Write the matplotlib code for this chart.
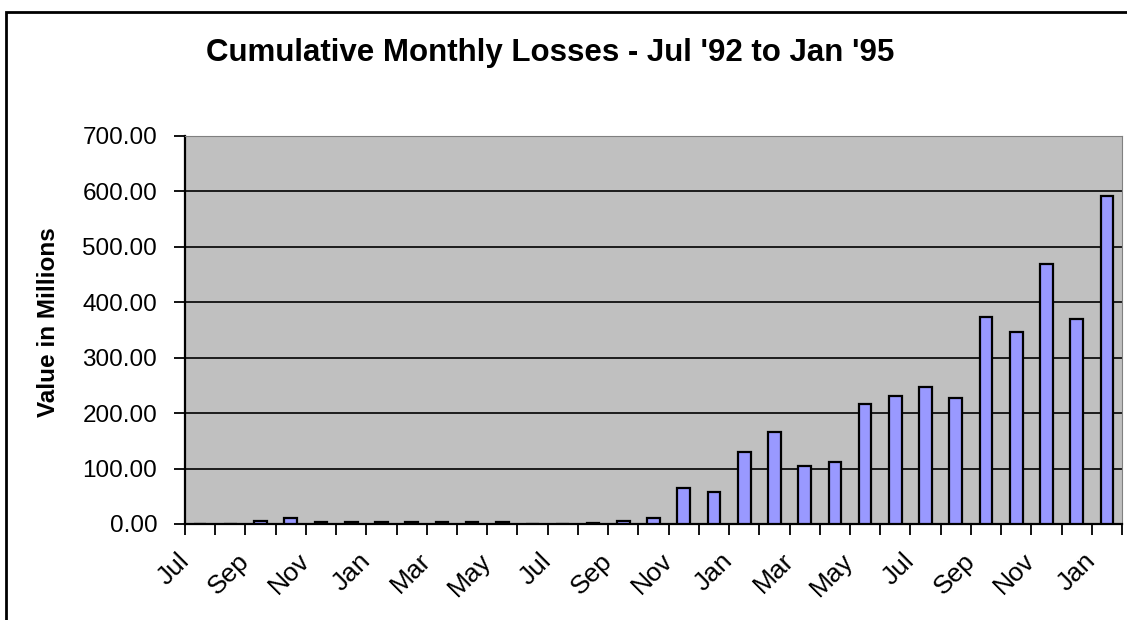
import matplotlib.pyplot as plt
import matplotlib.patches as mpatches
import matplotlib.transforms as mtransforms
import numpy as np

# Jul '92 .. Jan '95, one value per month (millions)
months = ['Jul', 'Aug', 'Sep', 'Oct', 'Nov', 'Dec',
          'Jan', 'Feb', 'Mar', 'Apr', 'May', 'Jun',
          'Jul', 'Aug', 'Sep', 'Oct', 'Nov', 'Dec',
          'Jan', 'Feb', 'Mar', 'Apr', 'May', 'Jun',
          'Jul', 'Aug', 'Sep', 'Oct', 'Nov', 'Dec',
          'Jan']
losses = [0, 0, 6, 10, 3, 3,
          3, 3, 3, 3, 3, 0,
          0, 2, 6, 11, 65, 58,
          130, 166, 105, 112, 217, 231,
          248, 227, 374, 347, 469, 370,
          591]
y_ticks = [0, 100, 200, 300, 400, 500, 600, 700]

plt.rcParams['font.family'] = ['Liberation Sans', 'DejaVu Sans']

fig = plt.figure(figsize=(11.27, 6.2), dpi=100)
# outer chart border
fig.patches.append(mpatches.Rectangle((6 / 1127, -0.05), 1.1, 1 - 12 / 620 + 0.05,
                                      transform=fig.transFigure, fill=False,
                                      edgecolor='black', linewidth=2))

ax = fig.add_axes([185 / 1127, 1 - 524 / 620, 937 / 1127, 388 / 620])
ax.set_facecolor('#C0C0C0')

x = np.arange(len(losses))
ax.bar(x, losses, width=0.42, color='#9999FF', edgecolor='black', linewidth=1.6, zorder=3)

ax.set_xlim(-0.5, len(losses) - 0.5)
ax.set_ylim(0, 700)
ax.set_yticks(y_ticks)
ax.set_yticklabels([f'{v:.2f}' for v in y_ticks], fontsize=17.5)
ax.yaxis.grid(True, color='black', linewidth=1.2, zorder=1)
ax.set_axisbelow(True)

# tick marks at category boundaries, month names every other category
ax.set_xticks(np.arange(len(losses) + 1) - 0.5)
ax.set_xticklabels([])
ax.tick_params(axis='x', length=8, width=1.3, direction='out')
ax.tick_params(axis='y', length=8, width=1.3, direction='out', pad=12)

lbl_trans = ax.get_xaxis_transform() + mtransforms.ScaledTranslation(
    -15 / 100, -33 / 100, fig.dpi_scale_trans)
for i in x[::2]:
    ax.text(i, 0, months[i], transform=lbl_trans, rotation=45, ha='right', va='center',
            rotation_mode='anchor', fontsize=19, clip_on=False)

for side in ['left', 'bottom']:
    ax.spines[side].set_linewidth(1.6)
    ax.spines[side].set_color('black')
for side in ['top', 'right']:
    ax.spines[side].set_color('#808080')

ax.set_ylabel('Value in Millions', fontsize=17.5, fontweight='bold', va='center')
ax.yaxis.set_label_coords(-0.146, 0.52)
fig.text(0.4885, 1 - 61 / 620, "Cumulative Monthly Losses - Jul '92 to Jan '95",
         ha='center', va='baseline', fontsize=22.5, fontweight='bold')

fig.savefig('out.png', dpi=100)
